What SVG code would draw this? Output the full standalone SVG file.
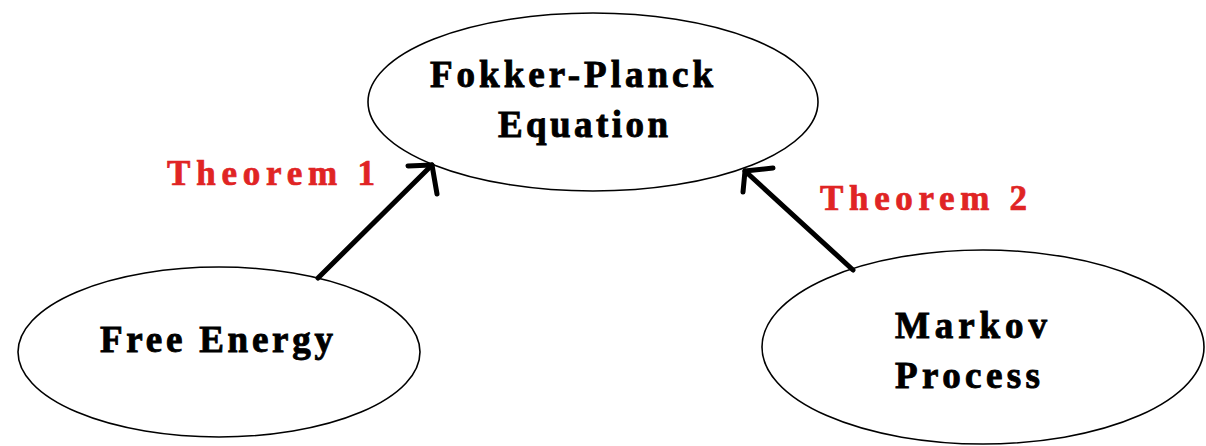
<svg xmlns="http://www.w3.org/2000/svg" width="1206" height="446" viewBox="0 0 1206 446">
<style>
.node ellipse{fill:#fff;stroke:#000;stroke-width:1.6}
.lbl{font-family:"Liberation Serif","Times New Roman",serif;font-weight:bold;font-size:37px;fill:#000;stroke:#000;stroke-width:0.9}
.thm{font-family:"Liberation Serif","Times New Roman",serif;font-weight:bold;font-size:35px;fill:#e02424;stroke:#e02424;stroke-width:0.7}
.conn{stroke:#000;stroke-width:5;fill:none;stroke-linecap:round;stroke-linejoin:round}
</style>
<rect width="1206" height="446" fill="#fff"/>
<g id="fokker-planck" class="node">
<ellipse cx="593" cy="102" rx="225" ry="89"/>
<text class="lbl" x="430" y="87" textLength="283" lengthAdjust="spacing">Fokker-Planck</text>
<text class="lbl" x="498" y="137" textLength="170" lengthAdjust="spacing">Equation</text>
</g>
<g id="free-energy" class="node">
<ellipse cx="219" cy="352" rx="201" ry="85"/>
<text class="lbl" x="100" y="352" textLength="233" lengthAdjust="spacing">Free Energy</text>
</g>
<g id="markov-process" class="node">
<ellipse cx="983" cy="347" rx="221" ry="97"/>
<text class="lbl" x="895" y="338" textLength="152" lengthAdjust="spacing">Markov</text>
<text class="lbl" x="895" y="388" textLength="145" lengthAdjust="spacing">Process</text>
</g>
<g id="connectors">
<path class="conn" d="M318,278 L432,165"/>
<path class="conn" d="M408,166 L432,165 L437,194"/>
<path class="conn" d="M853,270 L745,171"/>
<path class="conn" d="M773,168 L745,171 L743,192"/>
<text class="thm" x="167" y="185" textLength="208" lengthAdjust="spacing">Theorem  1</text>
<text class="thm" x="820" y="210" textLength="207" lengthAdjust="spacing">Theorem  2</text>
</g>
</svg>
